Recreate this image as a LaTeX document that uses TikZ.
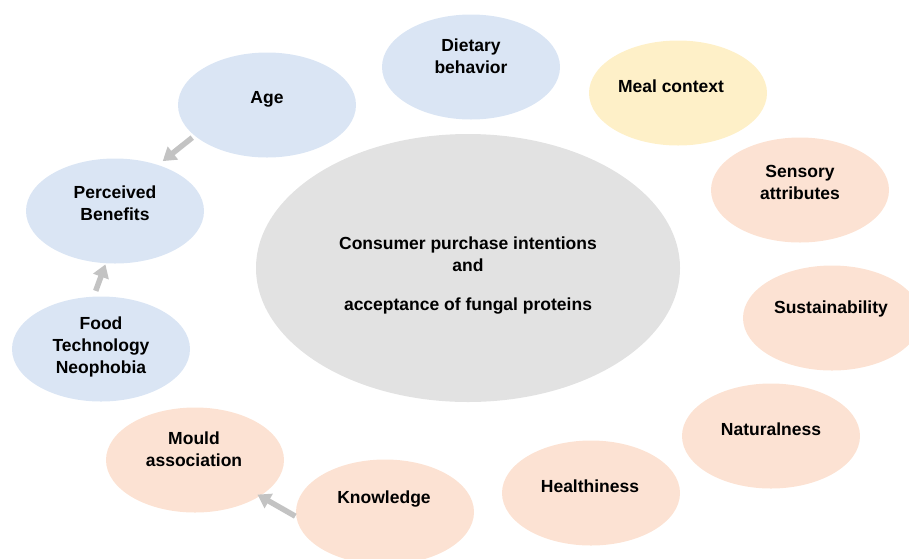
\documentclass[tikz,border=0pt]{standalone}
\usepackage{fontspec}
\setmainfont{Liberation Sans}
\usetikzlibrary{shapes.geometric,arrows.meta}
\definecolor{cblue}{HTML}{DAE5F4}
\definecolor{cpeach}{HTML}{FCE2D3}
\definecolor{cyellow}{HTML}{FEF0C8}
\definecolor{cgray}{HTML}{E2E2E2}
\definecolor{carrow}{HTML}{C3C3C3}
\tikzset{
  bub/.style={ellipse, inner sep=0pt, minimum width=178pt, minimum height=105pt},
  blue bub/.style={bub, fill=cblue},
  peach bub/.style={bub, fill=cpeach},
  yellow bub/.style={bub, fill=cyellow},
  txt/.style={align=center, font=\fontsize{17.5}{22}\selectfont\bfseries, inner sep=0pt},
  garrow/.style={draw=carrow, line width=5.5pt, -{Triangle[width=16pt,length=13pt]}}
}
\begin{document}
\begin{tikzpicture}[x=1pt,y=-1pt]
\useasboundingbox (0,0) rectangle (909,558);
% central
\node[ellipse, fill=cgray, inner sep=0pt, minimum width=424pt, minimum height=268pt] (center) at (468,268) {};
\node[txt] (center-t) at (468,276) {Consumer purchase intentions\\and\\[17pt]acceptance of fungal proteins};
% bubbles
\node[blue bub] (diet) at (471,67) {};
\node[txt] (diet-t) at (471,56) {Dietary\\behavior};
\node[blue bub] (age) at (267,105) {};
\node[txt] (age-t) at (267,99) {Age};
\node[yellow bub] (meal) at (678,93) {};
\node[txt] (meal-t) at (671,86) {Meal context};
\node[peach bub] (sens) at (800,190) {};
\node[txt] (sens-t) at (800,182) {Sensory\\attributes};
\node[blue bub] (pb) at (115,211) {};
\node[txt] (pb-t) at (115,203) {Perceived\\Benefits};
\node[peach bub] (sust) at (832,318) {};
\node[txt] (sust-t) at (831,309) {Sustainability};
\node[blue bub] (food) at (101,349) {};
\node[txt] (food-t) at (101,347) {Food\\Technology\\Neophobia};
\node[peach bub] (nat) at (771,436) {};
\node[txt] (nat-t) at (771,429) {Naturalness};
\node[peach bub] (mould) at (195,460) {};
\node[txt] (mould-t) at (194,449) {Mould\\association};
\node[peach bub] (health) at (591,493) {};
\node[txt] (health-t) at (590,486) {Healthiness};
\node[peach bub] (know) at (385,512) {};
\node[txt] (know-t) at (384,499) {Knowledge};
% arrows
\draw[garrow, shorten <=3pt, shorten >=6pt] (age.203) -- (pb.47);
\draw[garrow, shorten <=6pt, shorten >=1pt] (food.98) -- (pb.260);
\draw[garrow, shorten <=1pt, shorten >=-3pt] (know.183) -- (mould.331);
\end{tikzpicture}
\end{document}
